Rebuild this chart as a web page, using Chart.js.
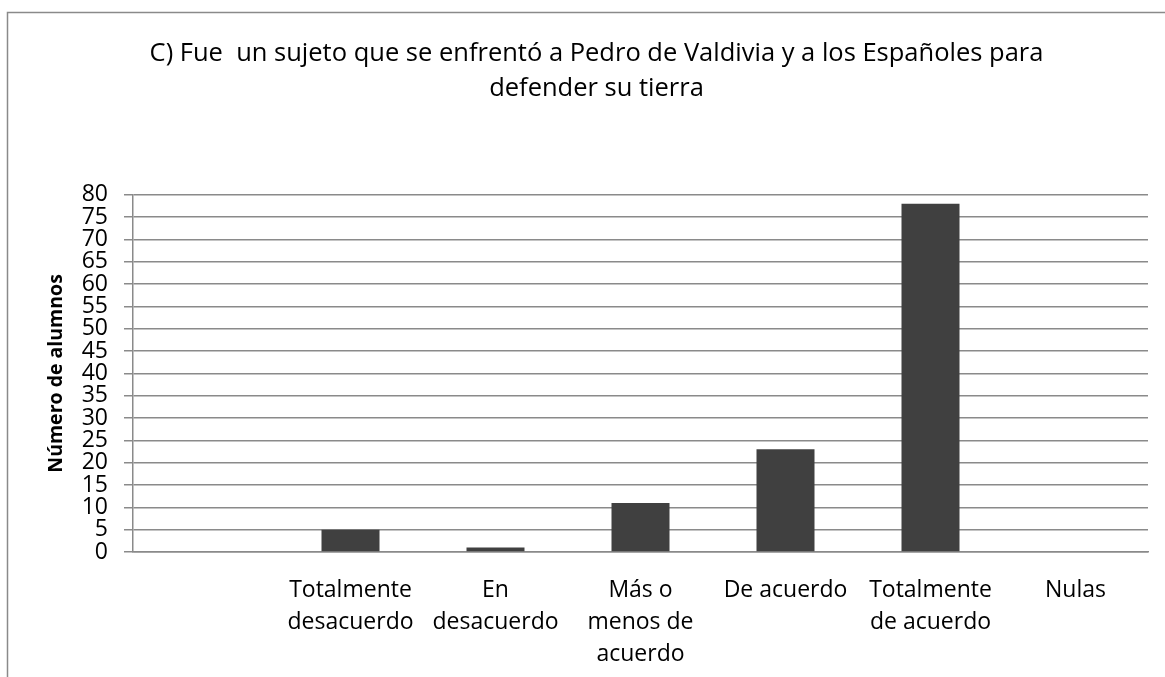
<!DOCTYPE html>
<html>
<head>
<meta charset="utf-8">
<script src="https://cdn.jsdelivr.net/npm/chart.js@4/dist/chart.umd.min.js"></script>
<style>
  html, body { margin: 0; padding: 0; background: #fff; }
  #wrap { position: relative; width: 1165px; height: 677px; }
</style>
</head>
<body>
<div id="wrap"><canvas id="grafico" width="1165" height="677"></canvas></div>
<script>
// datos del grafico
const categorias = [
    '',
    ['Totalmente', 'desacuerdo'],
    ['En', 'desacuerdo'],
    ['Más o', 'menos de', 'acuerdo'],
    'De acuerdo',
    ['Totalmente', 'de acuerdo'],
    'Nulas'
];
const alumnos = [null, 5, 1, 11, 23, 78, 0];
const ticksY = [0, 5, 10, 15, 20, 25, 30, 35, 40, 45, 50, 55, 60, 65, 70, 75, 80];

const fuente = "'Open Sans', sans-serif";
const gris = '#8a8a8a';
const margenIzq = 45;

// marco exterior (lineas izquierda y superior)
const marco = {
    id: 'marco',
    beforeDraw(chart) {
        const c = chart.ctx;
        c.save();
        c.strokeStyle = gris;
        c.lineWidth = 1.5;
        c.beginPath();
        c.moveTo(7.5, 677);
        c.lineTo(7.5, 12.5);
        c.lineTo(1165, 12.5);
        c.stroke();
        c.restore();
    }
};

new Chart(document.getElementById('grafico'), {
    type: 'bar',
    data: {
        labels: categorias,
        datasets: [{
            data: alumnos,
            backgroundColor: '#404040',
            borderWidth: 0,
            barPercentage: 0.4,
            categoryPercentage: 1
        }]
    },
    options: {
        responsive: false,
        animation: false,
        layout: { padding: { left: margenIzq, right: 17, top: 0, bottom: 0 } },
        plugins: {
            legend: { display: false },
            tooltip: { enabled: false },
            title: {
                display: true,
                text: ['C) Fue  un sujeto que se enfrentó a Pedro de Valdivia y a los Españoles para', 'defender su tierra'],
                color: '#000',
                font: { family: fuente, size: 25.5, weight: 'normal', lineHeight: 1.37 },
                padding: { top: 36, bottom: 89 }
            }
        },
        scales: {
            x: {
                grid: { display: false },
                border: { display: true, color: gris, width: 1.5 },
                ticks: {
                    color: '#000',
                    font: { family: fuente, size: 23, lineHeight: 1.4 },
                    padding: 14,
                    maxRotation: 0,
                    autoSkip: false
                },
                afterFit(scale) { scale.height = 125; }
            },
            y: {
                min: 0,
                max: 80,
                afterBuildTicks(scale) { scale.ticks = ticksY.map(v => ({ value: v })); },
                grid: { color: gris, lineWidth: 1.5, tickLength: 9 },
                border: { display: true, color: gris, width: 1.5 },
                ticks: {
                    color: '#000',
                    font: { family: fuente, size: 23 },
                    padding: 16,
                    autoSkip: false
                },
                title: {
                    display: true,
                    text: 'Número de alumnos',
                    color: '#000',
                    font: { family: fuente, size: 19.5, weight: 'bold' },
                    padding: 0
                },
                afterFit(scale) { scale.width = 133 - margenIzq; }
            }
        }
    },
    plugins: [marco]
});
</script>
</body>
</html>
